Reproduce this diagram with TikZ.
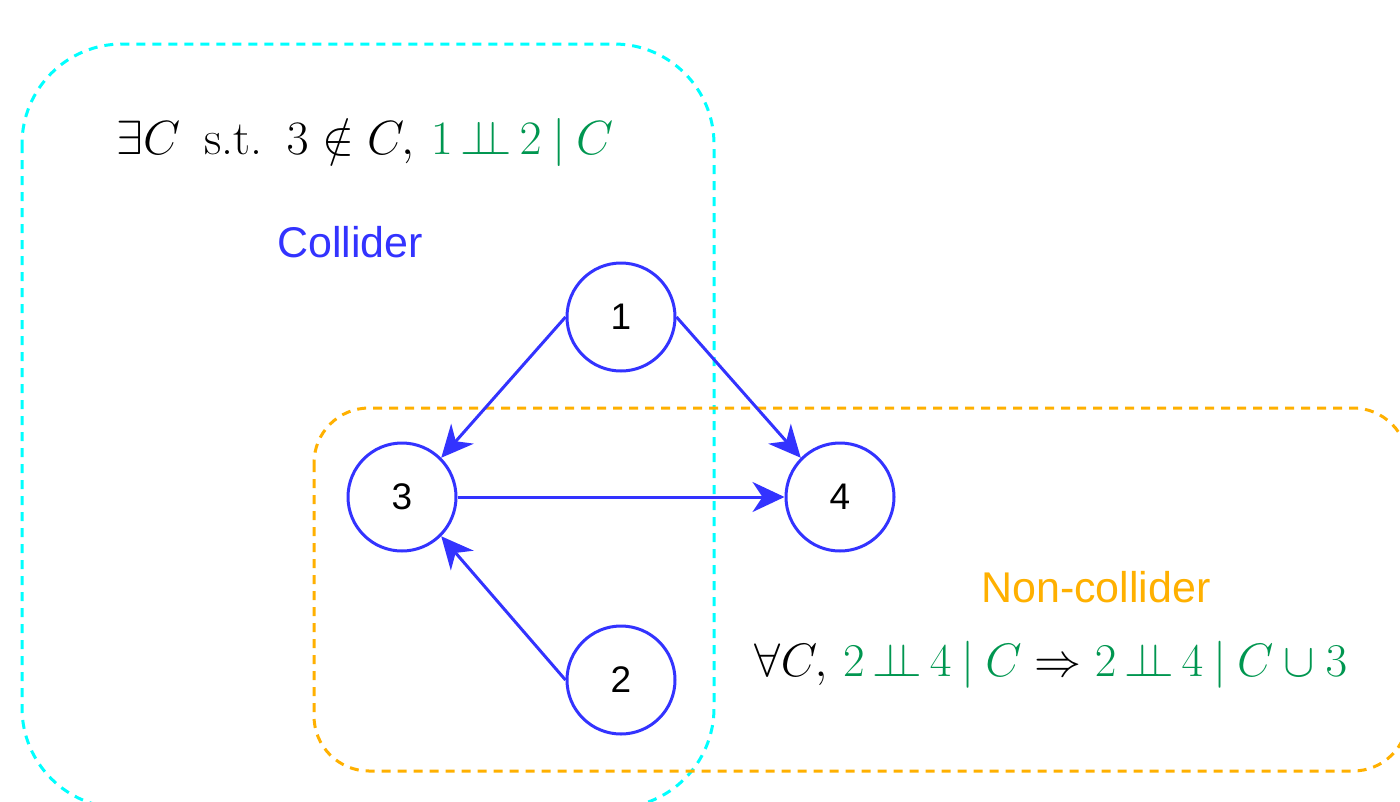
\RequirePackage{fix-cm}
\documentclass[tikz,border=0pt]{standalone}
\usepackage{amsmath,amssymb}
\usepackage{fontspec}
\newfontfamily\arialf{Liberation Sans}
\usetikzlibrary{arrows.meta}
\definecolor{edgeblue}{RGB}{51,51,255}
\definecolor{indgreen}{RGB}{0,150,80}
\definecolor{boxcyan}{RGB}{0,255,255}
\definecolor{boxorange}{RGB}{255,176,0}
\tikzset{
  vertex/.style={circle, draw=edgeblue, fill=white, line width=3pt, minimum size=108pt, inner sep=0pt, font=\arialf\fontsize{37}{40}\selectfont},
  edge/.style={draw=edgeblue, line width=3pt, -{Stealth[length=32pt,width=30pt,inset=10pt]}},
  cyanbox/.style={draw=boxcyan, line width=3pt, dash pattern=on 9pt off 7pt, rounded corners=100pt},
  orangebox/.style={draw=boxorange, line width=3pt, dash pattern=on 9pt off 7pt, rounded corners=55pt},
  mathtxt/.style={inner sep=0pt, font=\fontsize{48}{52}\selectfont},
  mathtxtb/.style={inner sep=0pt, font=\fontsize{47}{51}\selectfont},
  bluelbl/.style={inner sep=0pt, text=edgeblue, font=\arialf\fontsize{43}{48}\selectfont},
  orangelbl/.style={inner sep=0pt, text=boxorange, font=\arialf\fontsize{43}{48}\selectfont}
}
\newcommand{\indep}{\mkern3mu{\perp\!\!\!\perp}\mkern3mu}
\newcommand{\cbar}{\mathbin{|}}
\begin{document}
\begin{tikzpicture}[x=1pt,y=-1pt]
\useasboundingbox (0,0) rectangle (1400,801);
\clip (0,0) rectangle (1400,801);
\draw[cyanbox] (22,44) rectangle (714,808);
\draw[orangebox] (314,408) rectangle (1408,771);
\node[vertex] (n1) at (621,317) {1};
\node[vertex] (n3) at (402,497) {3};
\node[vertex] (n4) at (840,497) {4};
\node[vertex] (n2) at (621,680) {2};
\draw[edge] (n1.west) -- (n3.45);
\draw[edge] (n1.east) -- (n4.135);
\draw[edge] (n3.east) -- (n4.west);
\draw[edge] (n2.west) -- (n3.-45);
\node[mathtxt] (t1) at (365,142) {$\exists C\enspace\text{s.t.}\enspace 3\notin C,\, \textcolor{indgreen}{1\indep 2\cbar C}$};
\node[bluelbl] (l1) at (350,242) {Collider};
\node[orangelbl] (l2) at (1096,587) {Non-collider};
\node[mathtxtb] (t2) at (1051,665) {$\forall C,\,\textcolor{indgreen}{2\indep 4\cbar C}\Rightarrow\textcolor{indgreen}{2\indep 4\cbar C\cup 3}$};
\end{tikzpicture}
\end{document}
